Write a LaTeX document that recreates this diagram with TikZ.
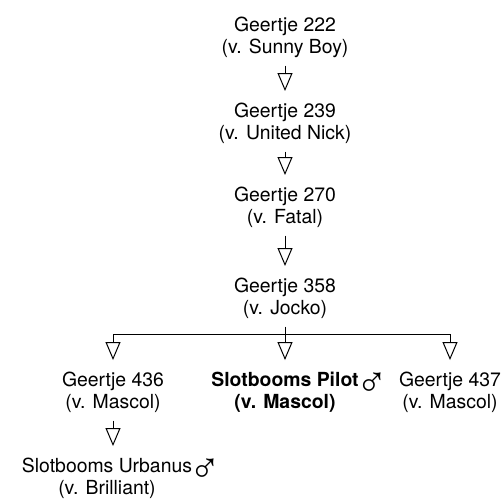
\documentclass[tikz,border=0pt]{standalone}
\usepackage{fontspec}
\setmainfont{TeX Gyre Heros}
\newfontfamily\symfont{Liberation Sans}
\usetikzlibrary{arrows.meta}
\newcommand{\mannetje}{\rlap{~\hspace{-4pt}\smash{\raisebox{-5pt}{\symfont\mdseries\fontsize{21}{11}\selectfont ♂}}}}

\begin{document}
\begin{tikzpicture}[x=0.5pt, y=-0.5pt, line width=0.5pt,
  dier/.style={align=center, inner sep=0pt, anchor=base, font=\fontsize{9.7}{11}\selectfont},
  pijl/.style={-{Triangle[open, length=9pt, width=7.5pt]}, shorten >=5.5pt},
  van/.style={shorten <=4pt}]
\useasboundingbox (0,0) rectangle (503,500);
\node[dier] (g222) at (285,53) {Geertje 222\\(v. Sunny Boy)};
\node[dier] (g239) at (285,139) {Geertje 239\\(v. United Nick)};
\node[dier] (g270) at (285,223) {Geertje 270\\(v. Fatal)};
\node[dier] (g358) at (285,314) {Geertje 358\\(v. Jocko)};
\node[dier] (g436) at (113,408) {Geertje 436\\(v. Mascol)};
\node[dier, font=\fontsize{9.7}{11}\selectfont\bfseries] (pilot) at (285,408) {Slotbooms Pilot\mannetje\\(v. Mascol)};
\node[dier] (g437) at (450,408) {Geertje 437\\(v. Mascol)};
\node[dier] (urbanus) at (107,494) {Slotbooms Urbanus\mannetje\\(v. Brilliant)};
\coordinate (tak) at (285,334);
\draw[pijl, van] (g222) -- (g239);
\draw[pijl, van] (g239) -- (g270);
\draw[pijl, van] (g270) -- (g358);
\draw[van] (g358) -- (tak);
\draw[pijl] (tak) -| (g436);
\draw[pijl] (tak) -- (pilot);
\draw[pijl] (tak) -| (g437);
\draw[pijl, van] (g436) -- (g436 |- urbanus.north);
\end{tikzpicture}
\end{document}
